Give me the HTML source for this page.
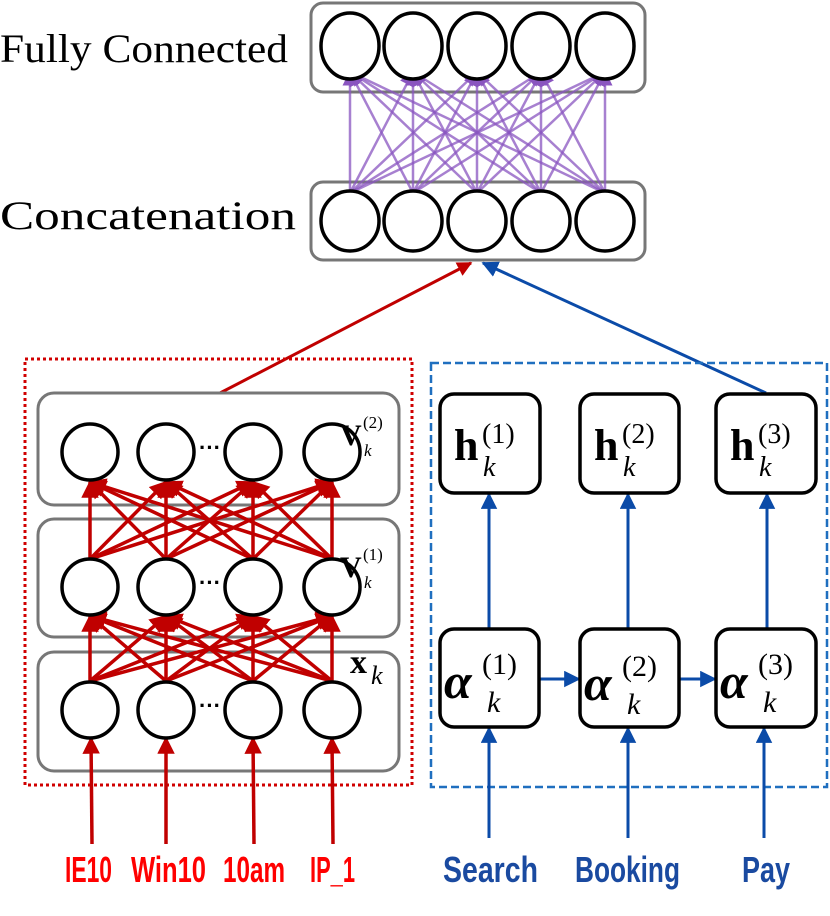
<!DOCTYPE html>
<html><head><meta charset="utf-8"><style>html,body{margin:0;padding:0;background:#fff}svg{display:block}</style></head><body>
<svg width="830" height="916" viewBox="0 0 830 916" xmlns="http://www.w3.org/2000/svg">
<defs>
<marker id="ap" viewBox="0 0 10 10" refX="9" refY="5" markerWidth="6" markerHeight="6" orient="auto"><path d="M0,0L10,5L0,10z" fill="#8a55c0"/></marker>
<marker id="ar" viewBox="0 0 10 10" refX="9" refY="5" markerWidth="5" markerHeight="5" orient="auto"><path d="M0,0L10,5L0,10z" fill="#c00000"/></marker>
<marker id="ab" viewBox="0 0 10 10" refX="9" refY="5" markerWidth="5.5" markerHeight="5.5" orient="auto"><path d="M0,0L10,5L0,10z" fill="#0b4ba8"/></marker>
</defs>
<g font-family="Liberation Serif, serif" font-size="40" fill="#000">
<text x="0" y="62" textLength="288" lengthAdjust="spacingAndGlyphs">Fully Connected</text>
<text x="0" y="229" textLength="296" lengthAdjust="spacingAndGlyphs">Concatenation</text>
</g>
<rect x="311" y="3" width="334" height="89" rx="12" fill="none" stroke="#777" stroke-width="3"/>
<rect x="311" y="182" width="334" height="78" rx="12" fill="none" stroke="#777" stroke-width="3"/>
<g stroke="#8a55c0" stroke-opacity="0.75" stroke-width="2.5" marker-end="url(#ap)">
<line x1="350" y1="193" x2="350" y2="72"/><line x1="350" y1="193" x2="413" y2="72"/><line x1="350" y1="193" x2="477" y2="72"/><line x1="350" y1="193" x2="541" y2="72"/><line x1="350" y1="193" x2="605" y2="72"/>
<line x1="413" y1="193" x2="350" y2="72"/><line x1="413" y1="193" x2="413" y2="72"/><line x1="413" y1="193" x2="477" y2="72"/><line x1="413" y1="193" x2="541" y2="72"/><line x1="413" y1="193" x2="605" y2="72"/>
<line x1="477" y1="193" x2="350" y2="72"/><line x1="477" y1="193" x2="413" y2="72"/><line x1="477" y1="193" x2="477" y2="72"/><line x1="477" y1="193" x2="541" y2="72"/><line x1="477" y1="193" x2="605" y2="72"/>
<line x1="541" y1="193" x2="350" y2="72"/><line x1="541" y1="193" x2="413" y2="72"/><line x1="541" y1="193" x2="477" y2="72"/><line x1="541" y1="193" x2="541" y2="72"/><line x1="541" y1="193" x2="605" y2="72"/>
<line x1="605" y1="193" x2="350" y2="72"/><line x1="605" y1="193" x2="413" y2="72"/><line x1="605" y1="193" x2="477" y2="72"/><line x1="605" y1="193" x2="541" y2="72"/><line x1="605" y1="193" x2="605" y2="72"/>
</g>
<g fill="#fff" stroke="#000" stroke-width="3.5">
<ellipse cx="350" cy="46" rx="29" ry="33"/><ellipse cx="413" cy="46" rx="29" ry="33"/><ellipse cx="477" cy="46" rx="29" ry="33"/><ellipse cx="541" cy="46" rx="29" ry="33"/><ellipse cx="605" cy="46" rx="29" ry="33"/>
<ellipse cx="350" cy="221" rx="29" ry="30"/><ellipse cx="413" cy="221" rx="29" ry="30"/><ellipse cx="477" cy="221" rx="29" ry="30"/><ellipse cx="541" cy="221" rx="29" ry="30"/><ellipse cx="605" cy="221" rx="29" ry="30"/>
</g>
<line x1="220" y1="393" x2="471" y2="263" stroke="#c00000" stroke-width="3" marker-end="url(#ar)"/>
<line x1="766" y1="393" x2="483" y2="263" stroke="#0b4ba8" stroke-width="3" marker-end="url(#ab)"/>
<rect x="25" y="359" width="387" height="426" fill="none" stroke="#d00000" stroke-width="3" stroke-dasharray="3,3"/>
<rect x="431" y="363" width="396" height="424" fill="none" stroke="#1f6fbf" stroke-width="2.5" stroke-dasharray="8,4"/>
<g fill="none" stroke="#777" stroke-width="3">
<rect x="38" y="393" width="361" height="112" rx="16"/>
<rect x="38" y="519" width="361" height="118" rx="16"/>
<rect x="38" y="652" width="361" height="119" rx="16"/>
</g>
<g stroke="#c00000" stroke-width="3.5" marker-end="url(#ar)">
<line x1="90" y1="559" x2="90" y2="482"/><line x1="90" y1="559" x2="166" y2="482"/><line x1="90" y1="559" x2="253" y2="482"/><line x1="90" y1="559" x2="332" y2="482"/>
<line x1="166" y1="559" x2="90" y2="482"/><line x1="166" y1="559" x2="166" y2="482"/><line x1="166" y1="559" x2="253" y2="482"/><line x1="166" y1="559" x2="332" y2="482"/>
<line x1="253" y1="559" x2="90" y2="482"/><line x1="253" y1="559" x2="166" y2="482"/><line x1="253" y1="559" x2="253" y2="482"/><line x1="253" y1="559" x2="332" y2="482"/>
<line x1="332" y1="559" x2="90" y2="482"/><line x1="332" y1="559" x2="166" y2="482"/><line x1="332" y1="559" x2="253" y2="482"/><line x1="332" y1="559" x2="332" y2="482"/>
<line x1="90" y1="681" x2="90" y2="616"/><line x1="90" y1="681" x2="166" y2="616"/><line x1="90" y1="681" x2="253" y2="616"/><line x1="90" y1="681" x2="332" y2="616"/>
<line x1="166" y1="681" x2="90" y2="616"/><line x1="166" y1="681" x2="166" y2="616"/><line x1="166" y1="681" x2="253" y2="616"/><line x1="166" y1="681" x2="332" y2="616"/>
<line x1="253" y1="681" x2="90" y2="616"/><line x1="253" y1="681" x2="166" y2="616"/><line x1="253" y1="681" x2="253" y2="616"/><line x1="253" y1="681" x2="332" y2="616"/>
<line x1="332" y1="681" x2="90" y2="616"/><line x1="332" y1="681" x2="166" y2="616"/><line x1="332" y1="681" x2="253" y2="616"/><line x1="332" y1="681" x2="332" y2="616"/>
<line x1="92" y1="844" x2="91" y2="738"/><line x1="166" y1="844" x2="166" y2="738"/><line x1="254" y1="844" x2="253" y2="738"/><line x1="333" y1="844" x2="332" y2="738"/>
</g>
<g fill="#fff" stroke="#000" stroke-width="3.5">
<circle cx="90" cy="452" r="28"/><circle cx="166" cy="452" r="28"/><circle cx="253" cy="452" r="28"/><circle cx="332" cy="452" r="28"/>
<circle cx="90" cy="587" r="28"/><circle cx="166" cy="587" r="28"/><circle cx="253" cy="587" r="28"/><circle cx="332" cy="587" r="28"/>
<circle cx="90" cy="710" r="28"/><circle cx="166" cy="710" r="28"/><circle cx="253" cy="710" r="28"/><circle cx="332" cy="710" r="28"/>
</g>
<g font-family="Liberation Sans, sans-serif" font-weight="bold" font-size="22" text-anchor="middle">
<text x="210" y="455">···</text><text x="210" y="590">···</text><text x="210" y="713">···</text>
</g>
<g font-family="Liberation Serif, serif">
<text x="340" y="445" font-size="30" font-weight="bold">V</text><text x="363" y="428" font-size="17">(2)</text><text x="364" y="456" font-size="17" font-style="italic">k</text>
<text x="340" y="577" font-size="30" font-weight="bold">V</text><text x="363" y="560" font-size="17">(1)</text><text x="364" y="588" font-size="17" font-style="italic">k</text>
<text x="350" y="673" font-size="34" font-weight="bold">x</text><text x="371" y="684" font-size="26" font-style="italic">k</text>
</g>
<g stroke="#0b4ba8" stroke-width="3" marker-end="url(#ab)">
<line x1="489" y1="628" x2="489" y2="494"/><line x1="628" y1="628" x2="628" y2="494"/><line x1="767" y1="628" x2="767" y2="494"/>
<line x1="540" y1="679" x2="579" y2="679"/><line x1="680" y1="679" x2="715" y2="679"/>
<line x1="489" y1="838" x2="489" y2="728"/><line x1="628" y1="838" x2="628" y2="728"/><line x1="764" y1="838" x2="764" y2="728"/>
</g>
<g fill="#fff" stroke="#000" stroke-width="3.5">
<rect x="440" y="394" width="100" height="99" rx="14"/><rect x="580" y="394" width="99" height="99" rx="14"/><rect x="716" y="394" width="100" height="99" rx="14"/>
<rect x="440" y="629" width="99" height="98" rx="14"/><rect x="580" y="629" width="99" height="98" rx="14"/><rect x="716" y="629" width="100" height="98" rx="14"/>
</g>
<g font-family="Liberation Serif, serif">
<text x="454" y="460" font-size="44" font-weight="bold">h</text><text x="482" y="443" font-size="28">(1)</text><text x="483" y="476" font-size="28" font-style="italic">k</text>
<text x="594" y="460" font-size="44" font-weight="bold">h</text><text x="622" y="443" font-size="28">(2)</text><text x="623" y="476" font-size="28" font-style="italic">k</text>
<text x="730" y="460" font-size="44" font-weight="bold">h</text><text x="758" y="443" font-size="28">(3)</text><text x="759" y="476" font-size="28" font-style="italic">k</text>
<text x="444" y="698" font-size="50" font-weight="bold" font-style="italic">α</text><text x="482" y="674" font-size="30">(1)</text><text x="487" y="712" font-size="30" font-style="italic">k</text>
<text x="584" y="700" font-size="50" font-weight="bold" font-style="italic">α</text><text x="622" y="676" font-size="30">(2)</text><text x="627" y="714" font-size="30" font-style="italic">k</text>
<text x="720" y="698" font-size="50" font-weight="bold" font-style="italic">α</text><text x="758" y="674" font-size="30">(3)</text><text x="763" y="712" font-size="30" font-style="italic">k</text>
</g>
<g font-family="Liberation Sans Narrow, Liberation Sans, sans-serif" font-weight="bold" font-size="36">
<g fill="#ff0000">
<text x="65" y="882" textLength="47" lengthAdjust="spacingAndGlyphs">IE10</text>
<text x="131" y="882" textLength="75" lengthAdjust="spacingAndGlyphs">Win10</text>
<text x="223" y="882" textLength="62" lengthAdjust="spacingAndGlyphs">10am</text>
<text x="310" y="882" textLength="45" lengthAdjust="spacingAndGlyphs">IP_1</text>
</g>
<g fill="#1a4aa0">
<text x="443" y="882" textLength="95" lengthAdjust="spacingAndGlyphs">Search</text>
<text x="575" y="882" textLength="105" lengthAdjust="spacingAndGlyphs">Booking</text>
<text x="742" y="882" textLength="48" lengthAdjust="spacingAndGlyphs">Pay</text>
</g>
</g>
</svg>
</body></html>
